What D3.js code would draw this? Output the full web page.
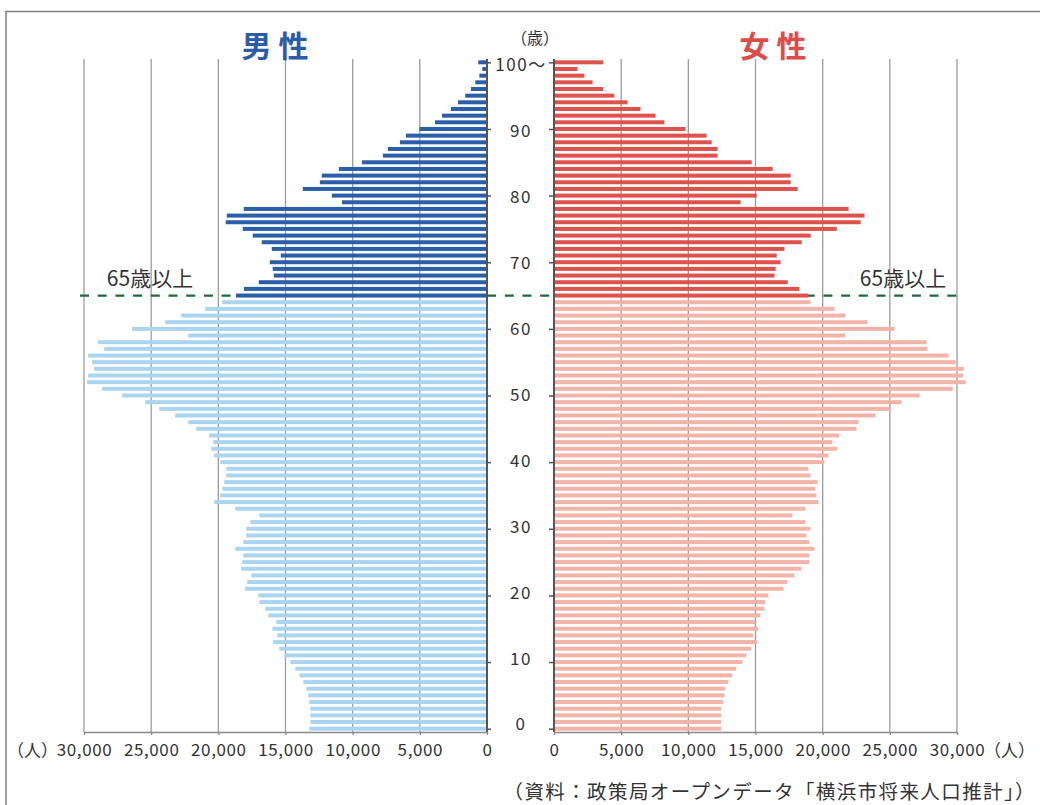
<!DOCTYPE html>
<html>
<head>
<meta charset="utf-8">
<script src="https://cdn.jsdelivr.net/npm/d3@7"></script>
<style>
  body { margin: 0; background: #fff; }
  text { font-family: "Noto Sans CJK JP", "Noto Sans", sans-serif; fill: #333; }
</style>
</head>
<body>
<div id="chart-container"></div>
<script>
// ages 0..100 (100 = "100〜")
const ages = d3.range(0, 101);

// male population by age, index = age
const male = [
  13230, 13150, 13150, 13150, 13230, 13300, 13450, 13670, 13970, 14270,
  14640, 15090, 15460, 15910, 15610, 15980, 15690, 16280, 16500, 16950,
  17030, 18000, 17850, 17550, 18290, 18220, 18140, 18740, 18140, 17920,
  17920, 17620, 16950, 18740, 20310, 19860, 19710, 19560, 19410, 19410,
  19860, 20310, 20530, 20380, 20680, 21650, 22240, 23210, 24400, 25450,
  27160, 28650, 29770, 29690, 29250, 29400, 29690, 28500, 28950, 22240,
  26420, 23960, 22760, 20980, 19710, 18690, 18090, 16990, 15870, 15950,
  16170, 15350, 16020, 16770, 17440, 18180, 19450, 19370, 18110, 10800,
  11550, 13710, 12440, 12300, 11030, 9310, 7750, 7380, 6480, 6040,
  5020, 3870, 3350, 2680, 2160, 1620, 1190, 870, 570, 350,
  650
];

// female population by age, index = age
const female = [
  12450, 12450, 12450, 12450, 12600, 12680, 12750, 12980, 13270, 13570,
  14020, 14320, 14690, 15140, 14840, 15210, 14990, 15360, 15660, 15730,
  15960, 17080, 17380, 17900, 18420, 19020, 19020, 19390, 19020, 18790,
  19090, 18720, 17750, 18720, 19690, 19540, 19460, 19610, 19090, 18940,
  20130, 20430, 21100, 20730, 21250, 22520, 22670, 23940, 25060, 25880,
  27220, 29680, 30650, 30430, 30500, 29900, 29380, 27810, 27740, 21700,
  25350, 23340, 21700, 20880, 19090, 18940, 18270, 17400, 16420, 16500,
  16870, 16580, 17160, 18440, 19110, 21050, 22830, 23120, 21930, 13890,
  15090, 18140, 17620, 17620, 16280, 14720, 12180, 12180, 11740, 11360,
  9790, 8220, 7560, 6440, 5480, 4490, 3670, 2870, 2260, 1750,
  3670
];

const popTicks = [0, 5000, 10000, 15000, 20000, 25000, 30000];
const ageTicks = [100, 90, 80, 70, 60, 50, 40, 30, 20, 10, 0];
const elderlyAge = 65;

const width = 1040, height = 805;
const colors = {
  maleOld: "#2b5ea9", maleYoung: "#aad5f1",
  femaleOld: "#de524d", femaleYoung: "#f2b4a8"
};

const svg = d3.select("#chart-container")
  .append("svg")
  .attr("width", width)
  .attr("height", height);

// frame
svg.append("path")
  .attr("d", `M6,${height} V11.5 H${width}`)
  .attr("fill", "none")
  .attr("stroke", "#808080")
  .attr("stroke-width", 1.5);

// scales
const y = d3.scaleBand()
  .domain(ages.slice().reverse())
  .range([59, 732])
  .paddingInner(0.4)
  .paddingOuter(0.2);

const xMale = d3.scaleLinear().domain([0, 30000]).range([487, 84]);
const xFemale = d3.scaleLinear().domain([0, 30000]).range([554, 957]);

// grid lines
[xMale, xFemale].forEach(x => {
  svg.append("g")
    .selectAll("line")
    .data(popTicks.filter(t => t > 0))
    .enter()
    .append("line")
    .attr("x1", d => x(d)).attr("x2", d => x(d))
    .attr("y1", 59).attr("y2", 732)
    .attr("stroke", "#9c9c9c")
    .attr("stroke-width", 1.3);
});

// 65+ dashed line (behind bars)
const yOld = y(elderlyAge) + y.bandwidth() / 2;
svg.append("line")
  .attr("x1", 80).attr("x2", 965)
  .attr("y1", yOld).attr("y2", yOld)
  .attr("stroke", "#1d6b3c")
  .attr("stroke-width", 2.2)
  .attr("stroke-dasharray", "9,8.7");

// bars
svg.append("g")
  .selectAll("rect")
  .data(ages)
  .enter()
  .append("rect")
  .attr("x", d => xMale(male[d]))
  .attr("y", d => y(d))
  .attr("width", d => xMale(0) - xMale(male[d]))
  .attr("height", y.bandwidth())
  .attr("fill", d => d >= elderlyAge ? colors.maleOld : colors.maleYoung);

svg.append("g")
  .selectAll("rect")
  .data(ages)
  .enter()
  .append("rect")
  .attr("x", xFemale(0))
  .attr("y", d => y(d))
  .attr("width", d => xFemale(female[d]) - xFemale(0))
  .attr("height", y.bandwidth())
  .attr("fill", d => d >= elderlyAge ? colors.femaleOld : colors.femaleYoung);

// age axis (tick positions from band centres)
const yAge = d3.scaleLinear()
  .domain([100, 0])
  .range([y(100) + y.bandwidth() / 2, y(0) + y.bandwidth() / 2]);
// labels are spread slightly tighter than the ticks
const yAgeLabel = d3.scaleLinear().domain([100, 0]).range([64.7, 724]);

const maleAxis = svg.append("g")
  .attr("transform", `translate(${xMale(0)},0)`)
  .call(d3.axisRight(yAge).tickValues(ageTicks).tickSize(4).tickFormat(""));

const femaleAxis = svg.append("g")
  .attr("transform", `translate(${xFemale(0)},0)`)
  .call(d3.axisLeft(yAge).tickValues(ageTicks).tickSize(5)
    .tickFormat(d => d === 100 ? "100〜" : d));

[maleAxis, femaleAxis].forEach(g => {
  g.select(".domain").remove();
  g.selectAll(".tick line").attr("stroke", "#555").attr("stroke-width", 1.5);
  g.append("line")
    .attr("y1", 59).attr("y2", 732)
    .attr("stroke", "#555").attr("stroke-width", 2);
});

femaleAxis.selectAll(".tick text")
  .attr("x", (521 - xFemale(0)))
  .attr("y", d => yAgeLabel(d) - yAge(d))
  .attr("dy", "0.35em")
  .attr("text-anchor", "middle")
  .style("font-family", '"Noto Sans CJK JP", sans-serif')
  .style("font-size", "17px")
  .style("letter-spacing", "1.5px")
  .style("fill", "#333");

// population axes
const styleBottom = g => {
  g.select(".domain").attr("stroke", "#888").attr("stroke-width", 1.5);
  g.selectAll(".tick line").attr("stroke", "#888").attr("stroke-width", 1.3);
  g.selectAll(".tick text")
    .attr("y", 12)
    .style("font-family", '"Noto Sans CJK JP", sans-serif')
    .style("font-size", "17px")
    .style("letter-spacing", "0.6px")
    .style("fill", "#333");
};

svg.append("g")
  .attr("transform", "translate(0,732)")
  .call(d3.axisBottom(xMale).tickValues(popTicks).tickSize(3).tickSizeOuter(0)
    .tickFormat(d3.format(",")))
  .call(styleBottom);

svg.append("g")
  .attr("transform", "translate(0,732)")
  .call(d3.axisBottom(xFemale).tickValues(popTicks).tickSize(3).tickSizeOuter(0)
    .tickFormat(d3.format(",")))
  .call(styleBottom);

// unit labels
svg.append("text")
  .attr("x", 58).attr("y", 757)
  .attr("text-anchor", "end")
  .style("font-size", "17px")
  .text("（人）");

svg.append("text")
  .attr("x", 984).attr("y", 757)
  .style("font-size", "17px")
  .text("（人）");

svg.append("text")
  .attr("x", 535).attr("y", 44)
  .attr("text-anchor", "middle")
  .style("font-size", "16px")
  .text("（歳）");

// titles
svg.append("text")
  .attr("x", 275).attr("y", 57)
  .attr("text-anchor", "middle")
  .style("font-size", "30px")
  .style("font-weight", "bold")
  .style("fill", "#2a5ca8")
  .text("男 性");

svg.append("text")
  .attr("x", 773).attr("y", 57)
  .attr("text-anchor", "middle")
  .style("font-size", "30px")
  .style("font-weight", "bold")
  .style("fill", "#dc4d4a")
  .text("女 性");

// 65+ labels
svg.append("text")
  .attr("x", 150).attr("y", 286)
  .attr("text-anchor", "middle")
  .style("font-size", "21px")
  .text("65歳以上");

svg.append("text")
  .attr("x", 903).attr("y", 286)
  .attr("text-anchor", "middle")
  .style("font-size", "21px")
  .text("65歳以上");

// source
svg.append("text")
  .attr("x", 1036).attr("y", 799)
  .attr("text-anchor", "end")
  .style("font-size", "19.5px")
  .style("letter-spacing", "1.4px")
  .text("（資料：政策局オープンデータ「横浜市将来人口推計」）");
</script>
</body>
</html>
